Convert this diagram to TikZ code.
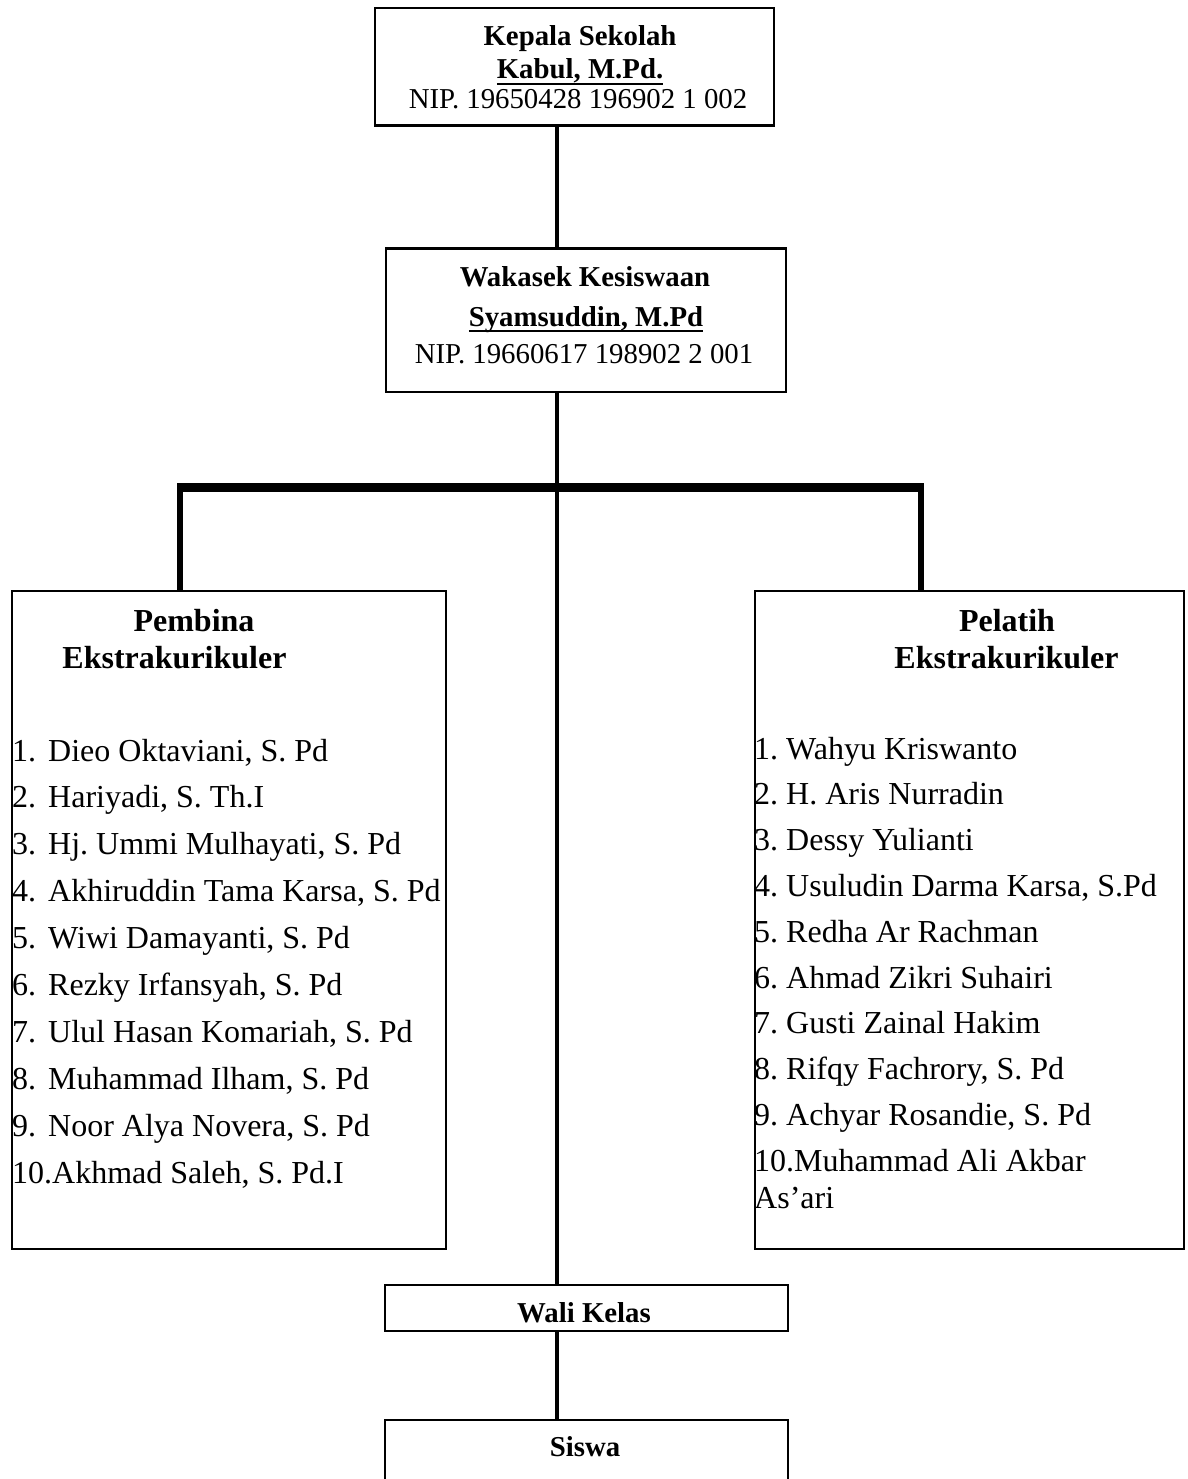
\documentclass[tikz,border=0pt]{standalone}
\usepackage{fontspec}
\setmainfont{Liberation Serif}
\frenchspacing
\usetikzlibrary{positioning}
\newcommand{\nameline}[1]{\setbox0\hbox{#1}\rlap{\rule[-6pt]{\wd0}{2pt}}\box0}

\begin{document}
\begin{tikzpicture}[x=1pt, y=-1pt,
	box/.style = {draw, line width=2.2pt, inner sep=0pt, anchor=north west},
	mid/.style = {font=\fontsize{28.8}{32}\selectfont, anchor=base, inner sep=0pt},
	midb/.style = {font=\fontsize{28.8}{32}\selectfont\bfseries, anchor=base, inner sep=0pt},
	head/.style = {font=\fontsize{32}{37}\selectfont\bfseries, anchor=base, inner sep=0pt},
	item/.style = {font=\fontsize{32}{37}\selectfont, anchor=base west, inner sep=0pt},
	spine/.style = {line width=3.8pt},
	bar/.style = {line width=9pt},
	drop/.style = {line width=6pt}]
	\useasboundingbox (0,0) rectangle (1187,1479);
	\clip (0,0) rectangle (1187,1479);

	% boxes
	\node[box, minimum width=399pt, minimum height=117.5pt] (kepsek) at (373.5,7) {};
	\node[box, minimum width=400pt, minimum height=143pt] (wakasek) at (384.5,247.5) {};
	\node[box, minimum width=434.5pt, minimum height=657.5pt] (pembina) at (10.5,590) {};
	\node[box, minimum width=429pt, minimum height=657.5pt] (pelatih) at (753.5,590) {};
	\node[box, minimum width=403pt, minimum height=46pt] (wali) at (383.5,1283.5) {};
	\node[box, minimum width=403pt, minimum height=100pt] (siswa) at (383.5,1418.5) {};

	% texts
	\node[midb] (kepsekA) at (580,46) {Kepala Sekolah};
	\node[midb] (kepsekB) at (580,79) {\nameline{Kabul, M.Pd.}};
	\node[mid] (kepsekC) at (578,109) {NIP. 19650428 196902 1 002};
	\node[midb] (wakasekA) at (585,286) {Wakasek Kesiswaan};
	\node[midb] (wakasekB) at (586,326) {\nameline{Syamsuddin, M.Pd}};
	\node[mid] (wakasekC) at (584,363) {NIP. 19660617 198902 2 001};
	\node[midb] (waliA) at (584,1322) {Wali Kelas};
	\node[midb] (siswaA) at (585,1456) {Siswa};

	\node[head] (pembinaA) at (194,631) {Pembina};
	\node[head] (pembinaB) at (174.5,668) {Ekstrakurikuler};
	\node[head] (pelatihA) at (1007,631) {Pelatih};
	\node[head] (pelatihB) at (1006.5,668) {Ekstrakurikuler};

	\foreach \who [count=\i] in {{Dieo Oktaviani, S. Pd}, {Hariyadi, S. Th.I},
		{Hj. Ummi Mulhayati, S. Pd}, {Akhiruddin Tama Karsa, S. Pd},
		{Wiwi Damayanti, S. Pd}, {Rezky Irfansyah, S. Pd},
		{Ulul Hasan Komariah, S. Pd}, {Muhammad Ilham, S. Pd},
		{Noor Alya Novera, S. Pd}}
		\node[item] (pb\i) at (12,714.1+46.9*\i) {\makebox[36pt][l]{\i.}\who};
	\node[item] (pb10) at (12,1183) {10.Akhmad Saleh, S. Pd.I};

	\foreach \who [count=\i] in {Wahyu Kriswanto, H. Aris Nurradin, Dessy Yulianti,
		{Usuludin Darma Karsa, S.Pd}, Redha Ar Rachman, Ahmad Zikri Suhairi,
		Gusti Zainal Hakim, {Rifqy Fachrory, S. Pd}, {Achyar Rosandie, S. Pd}}
		\node[item] (pl\i) at (754,713.2+45.8*\i) {\i. \who};
	\node[item] (pl10) at (754,1171) {10.Muhammad Ali Akbar};
	\node[item] (pl10b) at (754,1208) {As’ari};

	% connectors
	\coordinate (axis) at (557,0);
	\coordinate (lfork) at (180,487.5);
	\coordinate (rfork) at (921,487.5);
	\draw[spine] (axis |- kepsek.south) -- (axis |- wakasek.north);
	\draw[spine] (axis |- wakasek.south) -- (axis |- wali.north);
	\draw[spine] (axis |- wali.south) -- (axis |- siswa.north);
	\draw[bar] ([xshift=-3pt]lfork) -- ([xshift=3pt]rfork);
	\draw[drop] (lfork) -- (lfork |- pembina.north);
	\draw[drop] (rfork) -- (rfork |- pelatih.north);
\end{tikzpicture}
\end{document}
